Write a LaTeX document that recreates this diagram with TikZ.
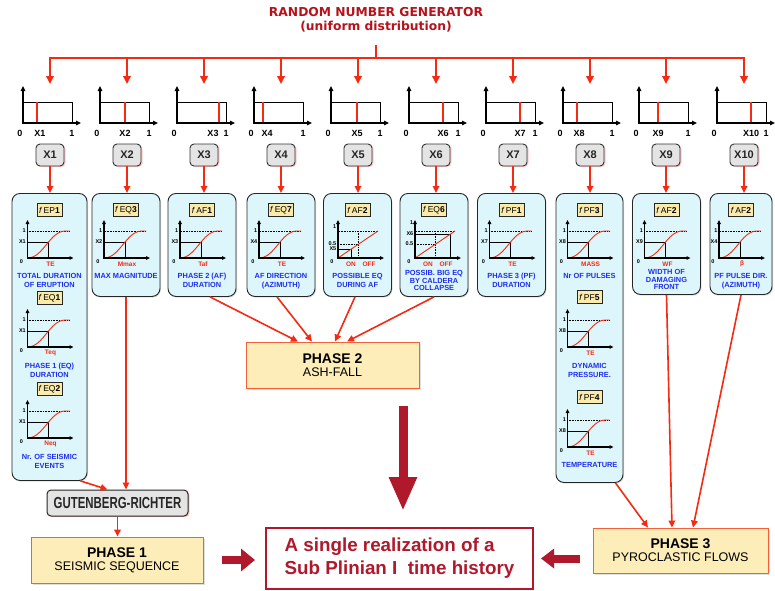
\documentclass[tikz,border=0pt]{standalone}
\usepackage{fontspec}
\setmainfont{Liberation Sans}
\newfontfamily\dejavu{DejaVu Sans}
\usepackage{graphicx}
\usetikzlibrary{arrows.meta,shadows}

\definecolor{wirered}{HTML}{F52A12}
\definecolor{titlered}{HTML}{B5121B}
\definecolor{deepred}{HTML}{B0182C}
\definecolor{panelfill}{HTML}{DDF6FB}
\definecolor{fnfill}{HTML}{FBEBAA}
\definecolor{descblue}{HTML}{1E2DF0}
\definecolor{phasefill}{HTML}{FDEDB8}
\definecolor{phaseline}{HTML}{F2603C}
\definecolor{xfill}{HTML}{E4E4E4}

\tikzset{
  wire/.style={draw=wirered, line width=1.8pt},
  wirearrow/.style={wire, -{Triangle[length=8pt,width=7.5pt]}},
  feedarrow/.style={draw=wirered, line width=1.6pt, -{Triangle[length=7pt,width=6.5pt]}},
  panelbox/.style={draw=black!85, line width=0.9pt, fill=panelfill, rounded corners=8pt,
    drop shadow={opacity=0.25, shadow xshift=1pt, shadow yshift=-1.2pt}},
  fnbox/.style={draw=black!85, line width=0.6pt, fill=fnfill, inner sep=0pt,
    minimum width=25, minimum height=12.5, font=\fontsize{8.5}{9}\selectfont},
  desctext/.style={text=descblue, font=\fontsize{7.4}{9}\selectfont\bfseries, align=center, inner sep=0pt},
  desctight/.style={desctext, font=\fontsize{7.4}{7.7}\selectfont\bfseries},
  ticklabel/.style={font=\fontsize{5.5}{6}\selectfont\bfseries, inner sep=0.5pt},
  qtylabel/.style={text=wirered, font=\fontsize{6.5}{7}\selectfont\bfseries, inner sep=0pt},
  ulabel/.style={font=\fontsize{9}{10}\selectfont\bfseries, inner sep=0pt},
  xbox/.style={draw=black!80, line width=0.9pt, fill=xfill, rounded corners=4pt,
    minimum width=28, minimum height=22, font=\fontsize{11}{11}\selectfont\bfseries, text=black!85,
    drop shadow={fill=red!60, opacity=0.35, shadow xshift=1.5pt, shadow yshift=-1pt}},
  phasebox/.style={draw=phaseline, line width=0.9pt, fill=phasefill, align=center,
    drop shadow={opacity=0.25, shadow xshift=1.5pt, shadow yshift=-1.5pt}},
  grbox/.style={draw=black!85, line width=1pt, fill=xfill, rounded corners=4pt,
    minimum width=141, minimum height=26,
    drop shadow={fill=red!60, opacity=0.35, shadow xshift=1.5pt, shadow yshift=-1.2pt}},
  resultbox/.style={draw=deepred, line width=2pt, fill=white, minimum width=267, minimum height=61,
    text=deepred, align=left, font=\fontsize{18.8}{23}\selectfont\bfseries},
  axes/.style={line width=1.2pt, {Triangle[length=4pt,width=3.6pt]}-{Triangle[length=4pt,width=3.6pt]}},
}

% uniform distribution sketch: #1 drop x, #2 sampled value x, #3 label, #4 label x
\newcommand\unifplot[4]{%
  \draw[line width=0.7pt] ({#1-27},102) rectangle ({#1+22},123);
  \draw[wirered, line width=1.3pt] (#2,102) -- (#2,123);
  \draw[line width=1.4pt, {Triangle[length=5pt,width=4.5pt]}-{Triangle[length=5pt,width=4.5pt]}]
    ({#1-27},86) -- ({#1-27},123) -- ({#1+31},123);
  \node[ulabel] at ({#1-30},133) {0};
  \node[ulabel] at (#4,133) {#3};
  \node[ulabel] at ({#1+22},133) {1};
}

% cumulative distribution sketch: #1 axis x, #2 base y, #3 level label, #4 quantity
\newcommand\cdfplot[4]{%
  \begin{scope}[shift={(#1,#2)}]
    \draw[densely dotted, line width=0.6pt] (1,-27) -- (42,-27);
    \draw[line width=0.8pt] (0,-16) -- (21,-16) -- (21,0);
    \draw[wirered, line width=0.9pt] (0,0) .. controls (16,0) and (22,-27) .. (38,-27) -- (42,-27);
    \draw[axes] (0,-38) -- (0,0) -- (46,0);
    \node[ticklabel, anchor=east] at (-1,-27) {1};
    \node[ticklabel, anchor=east] at (-1,-16) {#3};
    \node[ticklabel] at (-6,4) {0};
    \node[qtylabel] at (23,6) {#4};
  \end{scope}}

% on/off linear sketch: #1 axis x, #2 base y, #3 level label, #4 level height, #5 height of the "1"
\newcommand\linplot[5]{%
  \begin{scope}[shift={(#1,#2)}]
    \draw[densely dotted, line width=0.6pt] (1,-27) -- (40,-27);
    \draw[densely dotted, line width=0.6pt] (0,-13.5) -- (20,-13.5);
    \draw[densely dotted, line width=0.6pt] (20,-27) -- (20,0);
    \draw[line width=0.8pt] (0,-#4) -- ({40*#4/27},-#4) -- ({40*#4/27},0);
    \draw[wirered, line width=0.9pt] (0,0) -- (40,-27);
    \draw[axes] (0,-38) -- (0,0) -- (46,0);
    \node[ticklabel, anchor=east] at (-1,-#5) {1};
    \node[ticklabel, anchor=east] at (-1,-14) {0.5};
    \node[ticklabel, anchor=east] at (-1,-#4) {#3};
    \node[ticklabel] at (-6,4) {0};
    \node[qtylabel] at (13,6) {ON};
    \node[qtylabel] at (31,6) {OFF};
  \end{scope}}

\begin{document}
\begin{tikzpicture}[x=1pt,y=-1pt]
\useasboundingbox (0,0) rectangle (775,590);
\fill[white] (0,0) rectangle (775,590);

% generator and distribution bus
\node[text=titlered, font=\dejavu\fontsize{12.3}{14}\selectfont\bfseries, align=center, inner sep=0pt]
  (title) at (376,20) {RANDOM NUMBER GENERATOR\\(uniform distribution)};
\coordinate (gen) at (376,45);
\coordinate (busL) at (50,58);
\coordinate (busR) at (744,58);
\draw[wire] (gen) -- (gen |- busL);
\draw[wire, line cap=rect] (busL) -- (busR);
\foreach \i/\x in {1/50,2/127,3/204,4/281,5/358,6/436,7/513,8/590,9/666,10/744}{
  \coordinate (t\i) at (\x,84);
  \draw[wirearrow] (t\i |- busL) -- (t\i);
}

% sampled values
\unifplot{50}{37}{X1}{40}
\unifplot{127}{125}{X2}{125}
\unifplot{204}{219}{X3}{213}
\unifplot{281}{263}{X4}{267}
\unifplot{358}{357}{X5}{357}
\unifplot{436}{443}{X6}{443}
\unifplot{513}{520}{X7}{520}
\unifplot{590}{577}{X8}{579}
\unifplot{666}{658}{X9}{658}
\unifplot{744}{751}{X10}{751}

\foreach \i/\x in {1/50,2/127,3/204,4/281,5/358,6/436,7/513,8/590,9/666,10/744}{
  \node[xbox] (x\i) at (\x,155) {X\i};
}

% distribution panels
\node[panelbox, anchor=north, minimum width=75, minimum height=287] (p1) at (49.5,193) {};
\node[panelbox, anchor=north, minimum width=68, minimum height=103] (p2) at (126,193) {};
\node[panelbox, anchor=north, minimum width=68, minimum height=103] (p3) at (202,193) {};
\node[panelbox, anchor=north, minimum width=68, minimum height=103] (p4) at (281,193) {};
\node[panelbox, anchor=north, minimum width=68, minimum height=103] (p5) at (357.5,193) {};
\node[panelbox, anchor=north, minimum width=68, minimum height=103] (p6) at (434,193) {};
\node[panelbox, anchor=north, minimum width=68, minimum height=103] (p7) at (511.5,193) {};
\node[panelbox, anchor=north, minimum width=67, minimum height=289] (p8) at (589.5,193) {};
\node[panelbox, anchor=north, minimum width=68, minimum height=101] (p9) at (666.5,193) {};
\node[panelbox, anchor=north, minimum width=62, minimum height=101] (p10) at (741,193) {};

\foreach \i in {1,...,10}{
  \draw[feedarrow] (x\i.south) -- (x\i.south |- p\i.north);
}

% panel 1
\node[fnbox] (fEPa) at (49.5,210) {\textit{f}\,EP\textbf{1}};
\cdfplot{27.5}{258}{X1}{TE}
\node[desctext, anchor=north] (d1a) at (49.5,273) {TOTAL DURATION\\OF ERUPTION};
\node[fnbox] (fEQa) at (49.5,298) {\textit{f}\,EQ\textbf{1}};
\cdfplot{27.5}{347}{X1}{Teq}
\node[desctext, anchor=north] (d1b) at (49.5,363) {PHASE 1 (EQ)\\DURATION};
\node[fnbox] (fEQb) at (49.5,389) {\textit{f}\,EQ\textbf{2}};
\cdfplot{27.5}{438}{X1}{Neq}
\node[desctext, anchor=north] (d1c) at (49.5,454) {Nr. OF SEISMIC\\EVENTS};

% panel 2
\node[fnbox] (fEQc) at (126,210) {\textit{f}\,EQ\textbf{3}};
\cdfplot{104}{258}{X2}{Mmax}
\node[desctext, anchor=north] (d2) at (126,273) {MAX MAGNITUDE};

% panel 3
\node[fnbox] (fAFa) at (202,210) {\textit{f}\,AF\textbf{1}};
\cdfplot{180}{258}{X3}{Taf}
\node[desctext, anchor=north] (d3) at (202,273) {PHASE 2 (AF)\\DURATION};

% panel 4
\node[fnbox] (fEQd) at (281,210) {\textit{f}\,EQ\textbf{7}};
\cdfplot{259}{258}{X4}{TE}
\node[desctext, anchor=north] (d4) at (281,273) {AF DIRECTION\\(AZIMUTH)};

% panel 5
\node[fnbox] (fAFb) at (357.5,210) {\textit{f}\,AF\textbf{2}};
\linplot{338}{258}{X5}{9}{31}
\node[desctext, anchor=north] (d5) at (357.5,273) {POSSIBLE EQ\\DURING AF};

% panel 6
\node[fnbox] (fEQe) at (434,210) {\textit{f}\,EQ\textbf{6}};
\linplot{415}{258}{X6}{24}{35}
\node[desctight, anchor=north] (d6) at (434,270) {POSSIB. BIG EQ\\BY CALDERA\\COLLAPSE};

% panel 7
\node[fnbox] (fPFa) at (511.5,210) {\textit{f}\,PF\textbf{1}};
\cdfplot{489.5}{258}{X7}{TE}
\node[desctext, anchor=north] (d7) at (511.5,273) {PHASE 3 (PF)\\DURATION};

% panel 8
\node[fnbox] (fPFb) at (589.5,210) {\textit{f}\,PF\textbf{3}};
\cdfplot{567.5}{258}{X8}{MASS}
\node[desctext, anchor=north] (d8a) at (589.5,273) {Nr OF PULSES};
\node[fnbox] (fPFc) at (589.5,297) {\textit{f}\,PF\textbf{5}};
\cdfplot{567.5}{347}{X8}{TE}
\node[desctext, anchor=north] (d8b) at (589.5,363) {DYNAMIC\\PRESSURE.};
\node[fnbox] (fPFd) at (589.5,397) {\textit{f}\,PF\textbf{4}};
\cdfplot{567.5}{447}{X8}{TE}
\node[desctext, anchor=north] (d8c) at (589.5,462) {TEMPERATURE};

% panel 9
\node[fnbox] (fAFc) at (666.5,210) {\textit{f}\,AF\textbf{2}};
\cdfplot{644.5}{258}{X9}{WF}
\node[desctight, anchor=north] (d9) at (666.5,269) {WIDTH OF\\DAMAGING\\FRONT};

% panel 10
\node[fnbox] (fAFd) at (741,210) {\textit{f}\,AF\textbf{2}};
\cdfplot{719}{258}{X4}{β}
\node[desctext, anchor=north] (d10) at (741,273) {PF PULSE DIR.\\(AZIMUTH)};

% phases
\node[phasebox, minimum width=173, minimum height=46] (ph2) at (332.5,365)
  {\fontsize{14}{17}\selectfont\bfseries PHASE 2\\[1pt]\fontsize{12.5}{14}\selectfont ASH-FALL};
\node[grbox] (gr) at (117.5,503)
  {\scalebox{0.715}[1]{\fontsize{16}{16}\selectfont\bfseries\color{black!85}GUTENBERG-RICHTER}};
\node[phasebox, minimum width=172, minimum height=46] (ph1) at (117,560)
  {\fontsize{14}{17}\selectfont\bfseries PHASE 1\\[1pt]\fontsize{12.5}{14}\selectfont SEISMIC SEQUENCE};
\node[phasebox, minimum width=175, minimum height=45] (ph3) at (680.5,550.5)
  {\fontsize{14}{17}\selectfont\bfseries PHASE 3\\[1pt]\fontsize{12.5}{14}\selectfont PYROCLASTIC FLOWS};
\node[resultbox] (res) at (399.5,558.5)
  {A single realization of a\\Sub Plinian I\ \ time history};

% feeds into the phases
\draw[feedarrow] ([xshift=8]p3.south) -- ([xshift=-34.5]ph2.north);
\draw[feedarrow] ([xshift=-4]p4.south) -- ([xshift=-20.5]ph2.north);
\draw[feedarrow] ([xshift=-2.5]p5.south) -- ([xshift=2.5]ph2.north);
\draw[feedarrow] (p6.south) -- ([xshift=14.5]ph2.north);

\draw[feedarrow] ([xshift=-7]p1.south east) -- ([xshift=-10]gr.north);
\draw[feedarrow] (p2.south) -- (p2.south |- gr.north);
\draw[feedarrow] (gr.south) -- (gr.south |- ph1.north);

\draw[feedarrow] ([xshift=-8]p8.south east) -- ([xshift=-32.5]ph3.north);
\draw[feedarrow] (p9.south) -- ([xshift=-8.5]ph3.north);
\draw[feedarrow] (p10.south) -- ([xshift=12.5]ph3.north);

% outcome arrows
\coordinate (bigtop) at (403,406);
\draw[draw=deepred, line width=9pt, -{Triangle[length=34pt,width=26pt]}, shorten >=16pt]
  (bigtop) -- (bigtop |- res.north);
\draw[draw=deepred, line width=8pt, -{Triangle[length=14pt,width=22pt]}, shorten <=19pt, shorten >=10pt]
  (ph1.east) -- (ph1.east -| res.west);
\draw[draw=deepred, line width=8pt, -{Triangle[length=13pt,width=19pt]}, shorten <=13pt, shorten >=7pt]
  (ph3.west |- res.east) -- (res.east);
\end{tikzpicture}
\end{document}
